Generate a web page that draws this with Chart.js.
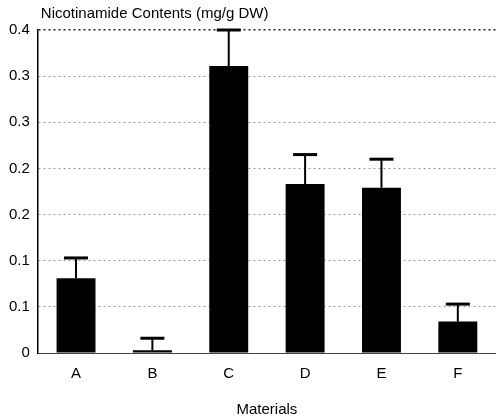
<!DOCTYPE html>
<html>
<head>
<meta charset="utf-8">
<script src="https://cdn.jsdelivr.net/npm/chart.js@4/dist/chart.umd.min.js"></script>
<style>
  html, body { margin: 0; padding: 0; background: #fff; overflow: hidden; }
  #wrap { width: 496px; height: 419px; }
</style>
</head>
<body>
<div id="wrap"><canvas id="chart"></canvas></div>
<script>
// данные с картинки
const categories = ['A', 'B', 'C', 'D', 'E', 'F'];
const means = [0.081, 0.003, 0.311, 0.183, 0.179, 0.034];
const errors = [0.022, 0.013, 0.039, 0.032, 0.031, 0.019];
const tickLabels = ['0', '0.1', '0.1', '0.2', '0.2', '0.3', '0.3', '0.4'];

const FONT = '"Liberation Sans", Arial, sans-serif';

// рисуем планки погрешностей поверх столбцов
const errorBars = {
    id: 'errorBars',
    afterDatasetsDraw(chart) {
        const ctx = chart.ctx;
        const meta = chart.getDatasetMeta(0);
        const y = chart.scales.y;
        ctx.save();
        ctx.strokeStyle = '#000';
        meta.data.forEach((bar, i) => {
            const top = y.getPixelForValue(means[i] + errors[i]);
            ctx.lineWidth = 2;
            ctx.beginPath();
            ctx.moveTo(bar.x, bar.y);
            ctx.lineTo(bar.x, top);
            ctx.stroke();
            ctx.lineWidth = 3;
            ctx.beginPath();
            ctx.moveTo(bar.x - 12, top);
            ctx.lineTo(bar.x + 12, top);
            ctx.stroke();
        });
        ctx.restore();
    }
};

// заголовок над осью Y
const topTitle = {
    id: 'topTitle',
    afterDraw(chart) {
        const ctx = chart.ctx;
        ctx.save();
        ctx.fillStyle = '#000';
        ctx.font = '15px ' + FONT;
        ctx.textBaseline = 'middle';
        ctx.fillText('Nicotinamide Contents (mg/g DW)', chart.chartArea.left + 3, 14);
        ctx.restore();
    }
};

new Chart(document.getElementById('chart'), {
    type: 'bar',
    data: {
        labels: categories,
        datasets: [{
            data: means,
            backgroundColor: '#000',
            borderWidth: 0,
            barPercentage: 0.51,
            categoryPercentage: 1
        }]
    },
    options: {
        responsive: true,
        maintainAspectRatio: false,
        animation: false,
        layout: { padding: { top: 30, right: 0, left: 1, bottom: 0 } },
        plugins: {
            legend: { display: false },
            tooltip: { enabled: false }
        },
        scales: {
            x: {
                grid: { display: false, drawTicks: false },
                border: { color: '#444', width: 1 },
                ticks: { color: '#000', font: { family: FONT, size: 15 }, padding: 12 },
                title: { display: true, text: 'Materials', color: '#000', font: { family: FONT, size: 15 }, padding: { top: 6, bottom: 0 } }
            },
            y: {
                min: 0,
                max: 0.35,
                grid: {
                    color: (c) => c.index === 7 ? '#222' : '#999',
                    lineWidth: (c) => c.index === 7 ? 1.5 : 1,
                    drawTicks: false
                },
                // в v4 пунктир сетки задаётся через border.dash
                border: { color: '#000', width: 1.5, dash: [2, 3] },
                ticks: {
                    stepSize: 0.05,
                    color: '#000',
                    font: { family: FONT, size: 15 },
                    padding: 8,
                    callback: (v, i) => tickLabels[i]
                }
            }
        }
    },
    plugins: [errorBars, topTitle]
});
</script>
</body>
</html>
